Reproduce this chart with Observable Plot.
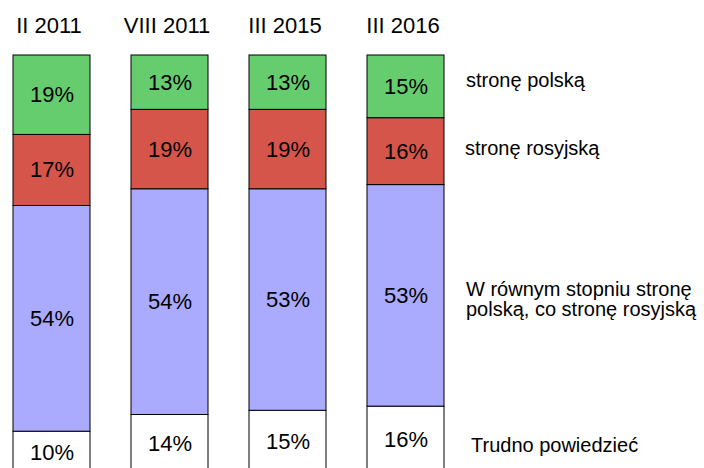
<!DOCTYPE html>
<html>
<head>
<meta charset="utf-8">
<script src="https://cdn.jsdelivr.net/npm/d3@7"></script>
<script src="https://cdn.jsdelivr.net/npm/@observablehq/plot@0.6"></script>
<style>
  html, body { margin: 0; padding: 0; background: #fff; overflow: hidden; }
  #chart svg { font-family: "Liberation Sans", Arial, sans-serif; }
</style>
</head>
<body>
<div id="chart"></div>
<script>
// Categories (survey periods)
const periods = ["II 2011", "VIII 2011", "III 2015", "III 2016"];
// Answers, bottom to top of each stack
const answers = ["Trudno powiedzieć", "W równym stopniu", "stronę rosyjską", "stronę polską"];
const legendLabels = ["Trudno powiedzieć", "W równym stopniu stronę\npolską, co stronę rosyjską", "stronę rosyjską", "stronę polską"];
// Series values (%)
const trudno   = [10, 14, 15, 16];
const rowny    = [54, 54, 53, 53];
const rosyjska = [17, 19, 19, 16];
const polska   = [19, 13, 13, 15];
const colors = ["#ffffff", "#aaaaff", "#d5554b", "#66cd6f"];

const series = [trudno, rowny, rosyjska, polska];
const rows = [];
periods.forEach((p, i) => {
  answers.forEach((a, j) => {
    rows.push({period: p, answer: a, legend: legendLabels[j], value: series[j][i]});
  });
});
const lastRows = rows.filter(d => d.period === periods[periods.length - 1]);
const legendDy = {"stronę polską": -6, "stronę rosyjską": -3, "W równym stopniu": 4, "Trudno powiedzieć": 6};
const legendDx = {"stronę polską": 60, "stronę rosyjską": 59, "W równym stopniu": 60, "Trudno powiedzieć": 65};

const legendMarks = answers.map(a =>
  Plot.text(lastRows, Plot.stackY({
    x: "period", y: "value", text: d => d.answer === a ? d.legend : null,
    textAnchor: "start", dx: legendDx[a], dy: legendDy[a],
    fontSize: 20, fill: "#000", lineHeight: 1.0
  }))
);

const chart = Plot.plot({
  width: 704,
  height: 468,
  marginTop: 55,
  marginBottom: -5,
  marginLeft: 0,
  marginRight: 0,
  style: {fontFamily: "Liberation Sans, Arial, sans-serif", background: "#fff", overflow: "hidden"},
  x: {domain: periods, range: [13, 443.7], paddingInner: 0.35, paddingOuter: 0, axis: null},
  y: {domain: [0, 100], axis: null},
  color: {domain: answers, range: colors},
  marks: [
    Plot.barY(rows, {x: "period", y: "value", fill: "answer", stroke: "#000", strokeWidth: 1}),
    Plot.text(rows, Plot.stackY({x: "period", y: "value", text: d => d.value + "%", fontSize: 22, fill: "#000"})),
    Plot.axisX({anchor: "top", tickSize: 0, tickPadding: 23, fontSize: 22, label: null, color: "#000", dx: -3}),
    ...legendMarks
  ]
});
document.getElementById("chart").appendChild(chart);
</script>
</body>
</html>
